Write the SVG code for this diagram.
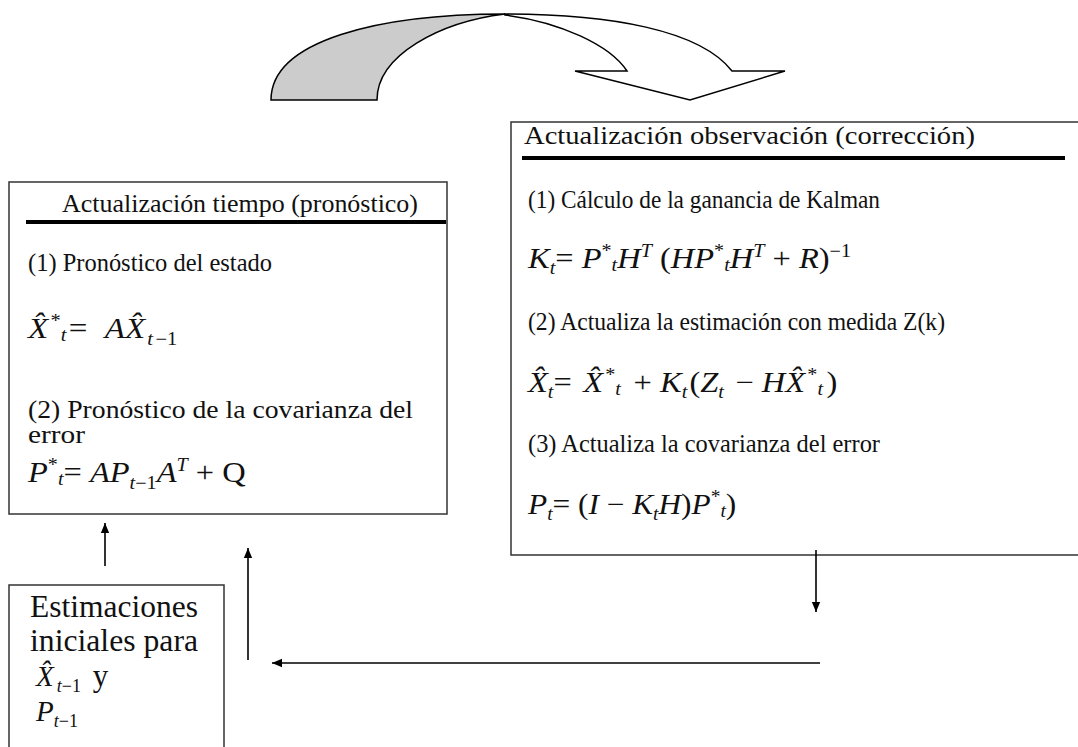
<svg xmlns="http://www.w3.org/2000/svg" width="1078" height="747" viewBox="0 0 1078 747">
<style>
.box{fill:none;stroke:#333;stroke-width:1.5}
.rule{stroke:#000;stroke-width:4}
.t,.b,.m{font-family:'Liberation Serif','DejaVu Serif',serif;fill:#111}
.t{font-size:24.5px}
.b{font-size:31px}
.m{font-size:29px;font-style:italic}
.u{font-style:normal}
.s{font-size:18px}
.con{stroke:#000;stroke-width:1.6;fill:none;marker-end:url(#ah)}
</style>
<defs>
<marker id="ah" markerWidth="10" markerHeight="12" refX="12" refY="5" orient="auto" markerUnits="userSpaceOnUse" viewBox="0 0 12 10">
<path d="M0,0 L12,5 L0,10 Z" fill="#000"/>
</marker>
</defs>
<g id="cycle-arrow">
<path d="M271,100 C271,40 380,14 505,14 C440,22 377,55 377,100 Z" fill="#cccccc" stroke="#000" stroke-width="1.5"/>
<path d="M505,14 C610,14 700,30 732,71 L785,71 L690,100 L575,71 L627,71 C610,45 560,22 505,15 Z" fill="#fff" stroke="#000" stroke-width="1.5"/>
</g>
<g id="time-update">
<rect class="box" x="9" y="182" width="438" height="332"/>
<text class="t" x="62" y="212" textLength="356" lengthAdjust="spacingAndGlyphs">Actualización tiempo (pronóstico)</text>
<line class="rule" x1="26" y1="222" x2="446" y2="222"/>
<text class="t" x="28" y="271" textLength="244" lengthAdjust="spacingAndGlyphs">(1) Pronóstico del estado</text>
<text class="m" transform="translate(28,338) scale(1.14,1)">X&#x302;<tspan class="s u" dy="-11" dx="2">*</tspan><tspan class="s" dy="14">t</tspan><tspan class="u" dy="-3" dx="2">= </tspan><tspan dx="8">A</tspan>X&#x302;<tspan class="s" dy="7" dx="2">t</tspan><tspan class="s u" dx="2">−1</tspan></text>
<text class="t" x="28" y="418" textLength="385" lengthAdjust="spacingAndGlyphs">(2) Pronóstico de la covarianza del</text>
<text class="t" x="28" y="443" textLength="57" lengthAdjust="spacingAndGlyphs">error</text>
<text class="m" transform="translate(28,482) scale(1.12,1)">P<tspan class="s u" dy="-11">*</tspan><tspan class="s" dy="14">t</tspan><tspan class="u" dy="-3">= </tspan>AP<tspan class="s" dy="7">t</tspan><tspan class="s u">−1</tspan><tspan dy="-7">A</tspan><tspan class="s" dy="-11">T</tspan><tspan class="u" dy="11"> + Q</tspan></text>
</g>
<g id="measurement-update">
<path class="box" d="M1080,122 H511 V555 H1080"/>
<text class="t" x="524" y="144" textLength="451" lengthAdjust="spacingAndGlyphs">Actualización observación (corrección)</text>
<line class="rule" x1="522" y1="158" x2="1065" y2="158"/>
<text class="t" x="528" y="208" textLength="352" lengthAdjust="spacingAndGlyphs">(1) Cálculo de la ganancia de Kalman</text>
<text class="m" transform="translate(528,268) scale(1.12,1)">K<tspan class="s" dy="6">t</tspan><tspan class="u" dy="-6">= </tspan>P<tspan class="s u" dy="-11">*</tspan><tspan class="s" dy="14">t</tspan><tspan dy="-3">H</tspan><tspan class="s" dy="-11">T</tspan><tspan class="u" dy="11"> (</tspan>HP<tspan class="s u" dy="-11">*</tspan><tspan class="s" dy="14">t</tspan><tspan dy="-3">H</tspan><tspan class="s" dy="-11">T</tspan><tspan class="u" dy="11"> + </tspan>R<tspan class="u">)</tspan><tspan class="s u" dy="-11">−1</tspan></text>
<text class="t" x="528" y="330" textLength="417" lengthAdjust="spacingAndGlyphs">(2) Actualiza la estimación con medida Z(k)</text>
<text class="m" transform="translate(528,392) scale(1.12,1)">X&#x302;<tspan class="s" dy="6">t</tspan><tspan class="u" dy="-6">= </tspan><tspan dx="3">X&#x302;</tspan><tspan class="s u" dy="-11" dx="2">*</tspan><tspan class="s" dy="14">t</tspan><tspan class="u" dy="-3" dx="4"> + </tspan>K<tspan class="s" dy="6">t</tspan><tspan class="u" dy="-6" dx="2">(</tspan>Z<tspan class="s" dy="6">t</tspan><tspan class="u" dy="-6" dx="3"> − </tspan>HX&#x302;<tspan class="s u" dy="-11" dx="2">*</tspan><tspan class="s" dy="14">t</tspan><tspan class="u" dy="-3" dx="3">)</tspan></text>
<text class="t" x="528" y="452" textLength="352" lengthAdjust="spacingAndGlyphs">(3) Actualiza la covarianza del error</text>
<text class="m" transform="translate(528,514) scale(1.08,1)">P<tspan class="s" dy="6">t</tspan><tspan class="u" dy="-6">= (</tspan>I<tspan class="u"> − </tspan>K<tspan class="s" dy="6">t</tspan><tspan dy="-6">H</tspan><tspan class="u">)</tspan>P<tspan class="s u" dy="-11">*</tspan><tspan class="s" dy="14">t</tspan><tspan class="u" dy="-3">)</tspan></text>
</g>
<g id="initial-estimates">
<path class="box" d="M9,750 V585 H224 V750"/>
<text class="b" x="30" y="617" textLength="168" lengthAdjust="spacingAndGlyphs">Estimaciones</text>
<text class="b" x="30" y="651" textLength="168" lengthAdjust="spacingAndGlyphs">iniciales para</text>
<text class="m" x="36" y="686" font-size="30">X&#x302;<tspan class="s" dy="6" dx="3">t</tspan><tspan class="s u">−1</tspan><tspan class="u" font-size="31" dy="-6" dx="4"> y</tspan></text>
<text class="m" x="36" y="721" font-size="30">P<tspan class="s" dy="6">t</tspan><tspan class="s u">−1</tspan></text>
</g>
<g id="connectors">
<line class="con" x1="105" y1="566" x2="105" y2="523"/>
<line class="con" x1="248" y1="660" x2="248" y2="548"/>
<line class="con" x1="820" y1="663" x2="272" y2="663"/>
<line class="con" x1="816" y1="550" x2="816" y2="612"/>
</g>
</svg>
